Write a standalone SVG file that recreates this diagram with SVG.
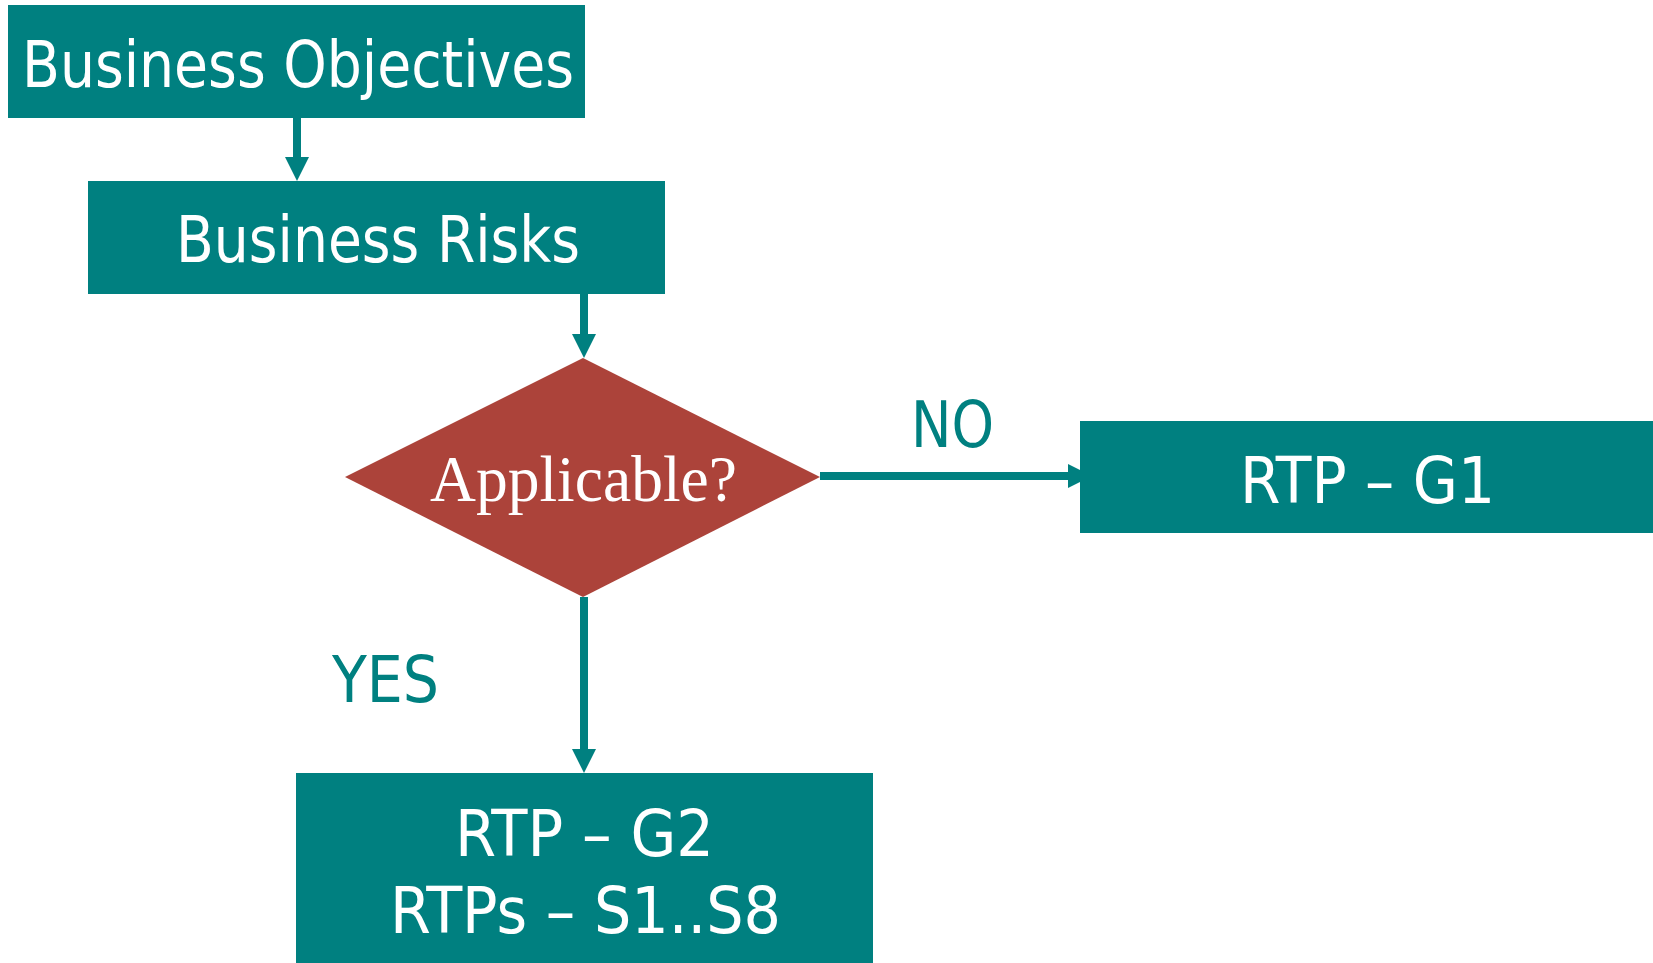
<svg xmlns="http://www.w3.org/2000/svg" width="1653" height="963" viewBox="0 0 1653 963">
  <style>
    .box { fill: #008080; }
    .dia { fill: #AC433A; }
    .lbl { font-family: "DejaVu Sans Condensed", "DejaVu Sans", "Liberation Sans", sans-serif; font-size: 64px; text-anchor: middle; }
    .w { fill: #FFFFFF; }
    .t { fill: #008080; }
    .serif { font-family: "Liberation Serif", "DejaVu Serif", serif; font-size: 66px; text-anchor: middle; fill: #FFFFFF; }
    .conn { stroke: #008080; stroke-width: 8; fill: none; }
  </style>
  <defs>
    <marker id="arrow" viewBox="0 0 24 24" refX="0" refY="12" markerWidth="24" markerHeight="24" markerUnits="userSpaceOnUse" orient="auto">
      <path d="M0,0 L24,12 L0,24 z" fill="#008080"/>
    </marker>
  </defs>
  <rect width="1653" height="963" fill="#FFFFFF"/>
  <g id="connectors">
    <path class="conn" d="M297,118 V157" marker-end="url(#arrow)"/>
    <path class="conn" d="M584,294 V334" marker-end="url(#arrow)"/>
    <path class="conn" d="M820,476 H1068" marker-end="url(#arrow)"/>
    <path class="conn" d="M584,597 V749" marker-end="url(#arrow)"/>
  </g>
  <g id="business-objectives">
    <rect class="box" x="8" y="5" width="577" height="113"/>
    <text class="lbl w" x="298" y="87" textLength="552" lengthAdjust="spacingAndGlyphs">Business Objectives</text>
  </g>
  <g id="business-risks">
    <rect class="box" x="88" y="181" width="577" height="113"/>
    <text class="lbl w" x="378" y="262" textLength="404" lengthAdjust="spacingAndGlyphs">Business Risks</text>
  </g>
  <g id="applicable">
    <polygon class="dia" points="583,358 820,477 583,597 345,477"/>
    <text class="serif" x="583.5" y="501" textLength="307" lengthAdjust="spacingAndGlyphs">Applicable?</text>
  </g>
  <g id="rtp-g1">
    <rect class="box" x="1080" y="421" width="573" height="112"/>
    <text class="lbl w" x="1367.5" y="503" textLength="255" lengthAdjust="spacingAndGlyphs">RTP – G1</text>
  </g>
  <g id="rtp-g2">
    <rect class="box" x="296" y="773" width="577" height="190"/>
    <text class="lbl w" x="584.5" y="856" textLength="259" lengthAdjust="spacingAndGlyphs">RTP – G2</text>
    <text class="lbl w" x="585.5" y="933" textLength="391" lengthAdjust="spacingAndGlyphs">RTPs – S1..S8</text>
  </g>
  <g id="labels">
    <text class="lbl t" x="952.5" y="447" textLength="83" lengthAdjust="spacingAndGlyphs">NO</text>
    <text class="lbl t" x="385.5" y="702" textLength="107" lengthAdjust="spacingAndGlyphs">YES</text>
  </g>
</svg>
